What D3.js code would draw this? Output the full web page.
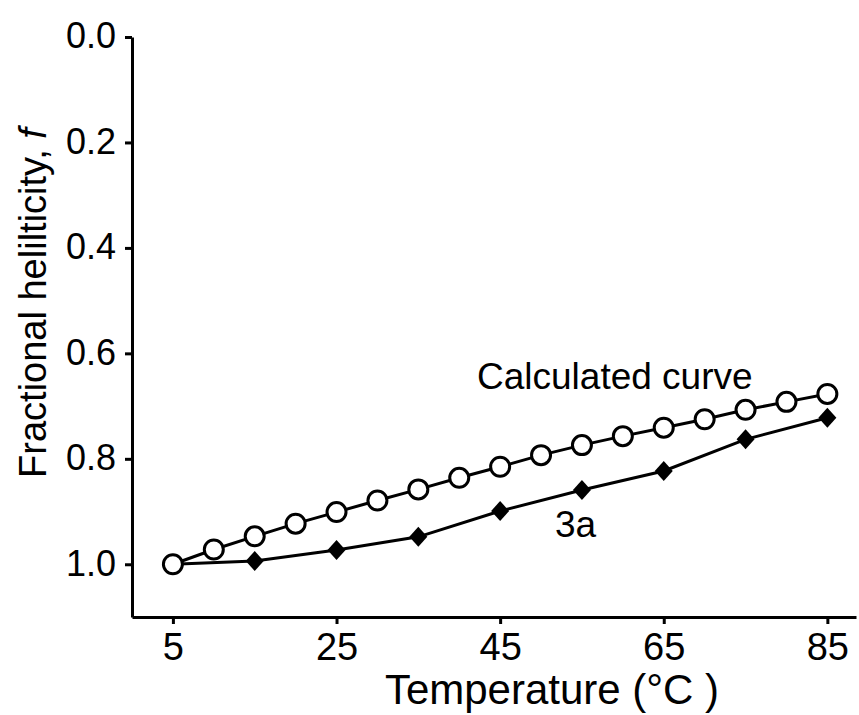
<!DOCTYPE html>
<html>
<head>
    <meta charset="utf-8">
    <title>Fractional helicity vs temperature</title>
    <script type="text/javascript" src="https://cdn.jsdelivr.net/npm/d3@7"></script>
    <style>
        body { margin: 0; background: #fff; }
        text { font-family: "Liberation Sans", Arial, Helvetica, sans-serif; fill: #000; }
        .axis path, .axis line { stroke: #000; stroke-width: 3; }
    </style>
</head>

<body>

<script type="text/javascript">
    // data
    var calcTemps = [5, 10, 15, 20, 25, 30, 35, 40, 45, 50, 55, 60, 65, 70, 75, 80, 85];
    var calcF = [1.0, 0.972, 0.947, 0.923, 0.901, 0.879, 0.858, 0.836, 0.815,
                 0.793, 0.774, 0.757, 0.741, 0.725, 0.707, 0.692, 0.677];

    var temps3a = [5, 15, 25, 35, 45, 55, 65, 75, 85];
    var f3a = [1.0, 0.994, 0.973, 0.948, 0.899, 0.859, 0.823, 0.763, 0.722];

    var xTicks = [5, 25, 45, 65, 85];
    var yTicks = [0.0, 0.2, 0.4, 0.6, 0.8, 1.0];

    var width = 859,
        height = 715;

    var svg = d3.select("body").append("svg")
            .attr("width", width)
            .attr("height", height);

    var x = d3.scaleLinear().domain([0, 88.5]).range([132, 856]);
    var y = d3.scaleLinear().domain([0, 1.1]).range([37, 617]);

    function renderAxes(){
        var xAxis = d3.axisBottom(x)
                      .tickValues(xTicks)
                      .tickSize(7)
                      .tickSizeOuter(0)
                      .tickPadding(9);

        var gx = svg.append('g')
            .classed('axis', true)
            .attr("transform", 'translate(0,' + y.range()[1] + ')')
            .call(xAxis);
        gx.attr("font-family", null).attr("font-size", null);
        gx.selectAll('text')
            .style("font-size", "38px");

        var yAxis = d3.axisLeft(y)
                      .tickValues(yTicks)
                      .tickFormat(d3.format(".1f"))
                      .tickSize(7)
                      .tickSizeOuter(0)
                      .tickPadding(9);

        var gy = svg.append('g')
            .classed('axis', true)
            .attr("transform", 'translate(' + x.range()[0] + ',0)')
            .call(yAxis);
        gy.attr("font-family", null).attr("font-size", null);
        gy.selectAll('text')
            .style("font-size", "36px")
            .attr("dy", "0.3em");

        svg.append('text')
            .attr("x", 552)
            .attr("y", 704)
            .attr("text-anchor", "middle")
            .style("font-size", "42px")
            .text("Temperature (°C )");

        var yt = svg.append('text')
            .attr("transform", "translate(46,303) rotate(-90)")
            .attr("text-anchor", "middle")
            .style("font-size", "38px");
        yt.append('tspan').text("Fractional helilticity, ");
        yt.append('tspan').style("font-style", "italic").text("f");
    }

    function renderSeries(){
        var calc = calcTemps.map(function(t, i){ return [t, calcF[i]]; });
        var s3a = temps3a.map(function(t, i){ return [t, f3a[i]]; });

        var line = d3.line()
            .x(function(d){ return x(d[0]); })
            .y(function(d){ return y(d[1]); });

        svg.append('path')
            .datum(s3a)
            .attr("d", line)
            .attr("fill", "none")
            .attr("stroke", "#000")
            .attr("stroke-width", 3);

        svg.selectAll('path.diamond')
            .data(s3a)
            .enter().append('path')
            .classed('diamond', true)
            .attr("d", "M0,-10L9,0L0,10L-9,0Z")
            .attr("transform", function(d){ return 'translate(' + x(d[0]) + ',' + y(d[1]) + ')'; })
            .attr("fill", "#000");

        svg.append('path')
            .datum(calc)
            .attr("d", line)
            .attr("fill", "none")
            .attr("stroke", "#000")
            .attr("stroke-width", 3);

        svg.selectAll('circle.calc')
            .data(calc)
            .enter().append('circle')
            .classed('calc', true)
            .attr("cx", function(d){ return x(d[0]); })
            .attr("cy", function(d){ return y(d[1]); })
            .attr("r", 9.5)
            .attr("fill", "#fff")
            .attr("stroke", "#000")
            .attr("stroke-width", 3);

        svg.append('text')
            .attr("x", 477)
            .attr("y", 389)
            .style("font-size", "37px")
            .text("Calculated curve");

        svg.append('text')
            .attr("x", 555)
            .attr("y", 537)
            .style("font-size", "37px")
            .text("3a");
    }

    renderAxes();
    renderSeries();
</script>

</body>

</html>
